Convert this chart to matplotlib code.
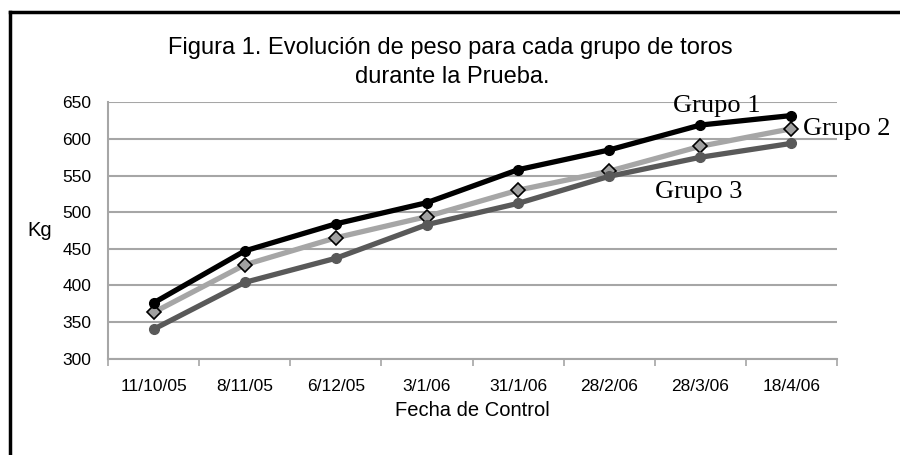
import numpy as np
import matplotlib.pyplot as plt
from matplotlib.lines import Line2D

fechas = ['11/10/05', '8/11/05', '6/12/05', '3/1/06', '31/1/06', '28/2/06', '28/3/06', '18/4/06']
grupo1 = [376, 447, 484, 513, 558, 585, 619, 632]
grupo2 = [363, 428, 465, 494, 530, 556, 590, 614]
grupo3 = [340, 404, 437, 483, 512, 549, 575, 594]
yticks = [300, 350, 400, 450, 500, 550, 600, 650]

plt.rcParams['font.family'] = ['Liberation Sans', 'DejaVu Sans']

fig = plt.figure(figsize=(9, 4.55), dpi=100)
ax = fig.add_axes([0.12, 0.212, 0.81, 0.563])

x = np.arange(len(fechas))
ax.plot(x, grupo2, color='#a6a6a6', lw=3.8, marker='D', ms=7, mfc='#a0a0a0',
        mec='black', mew=1.2, zorder=3)
ax.plot(x, grupo3, color='#595959', lw=3.8, marker='o', ms=7, mfc='#595959',
        mec='#595959', zorder=3)
ax.plot(x, grupo1, color='black', lw=3.8, marker='o', ms=7, mfc='black',
        mec='black', zorder=4)

ax.set_xlim(-0.5, len(fechas) - 0.5)
ax.set_ylim(300, 650)
ax.set_yticks(yticks)
ax.set_yticklabels([str(v) for v in yticks], fontsize=12.5)
ax.set_xticks(x)
ax.set_xticklabels(fechas, fontsize=12.5)
ax.set_xticks(np.arange(len(fechas) + 1) - 0.5, minor=True)
ax.tick_params(axis='x', which='major', length=0, pad=15)
ax.tick_params(axis='x', which='minor', length=5, color='#a6a6a6', width=1.2)
ax.tick_params(axis='y', length=0, pad=12)

ax.grid(axis='y', color='#a6a6a6', lw=1.5)
ax.set_axisbelow(True)
for s in ['top', 'right']:
    ax.spines[s].set_visible(False)
for s in ['left', 'bottom']:
    ax.spines[s].set_color('#a6a6a6')
    ax.spines[s].set_linewidth(1.5)

ax.set_xlabel('Fecha de Control', fontsize=14.5, labelpad=5)
ax.set_ylabel('Kg', fontsize=14.5, rotation=0, labelpad=16, va='center')

fig.text(0.5, 0.895, 'Figura 1. Evolución de peso para cada grupo de toros',
         ha='center', va='center', fontsize=17)
fig.text(0.502, 0.830, 'durante la Prueba.', ha='center', va='center', fontsize=17)

serif = ['Liberation Serif', 'DejaVu Serif']
ax.text(6.18, 645, 'Grupo 1', family=serif, fontsize=19, ha='center', va='center')
ax.text(7.13, 614, 'Grupo 2', family=serif, fontsize=19, ha='left', va='center')
ax.text(5.98, 528, 'Grupo 3', family=serif, fontsize=19, ha='center', va='center')

# frame of the original figure (cut at right and bottom)
fig.add_artist(Line2D([0.011, 1.0], [0.974, 0.974], color='black', lw=2.5,
                      transform=fig.transFigure))
fig.add_artist(Line2D([0.011, 0.011], [0.0, 0.974], color='black', lw=2.5,
                      transform=fig.transFigure))

fig.savefig('out.png', dpi=100)
